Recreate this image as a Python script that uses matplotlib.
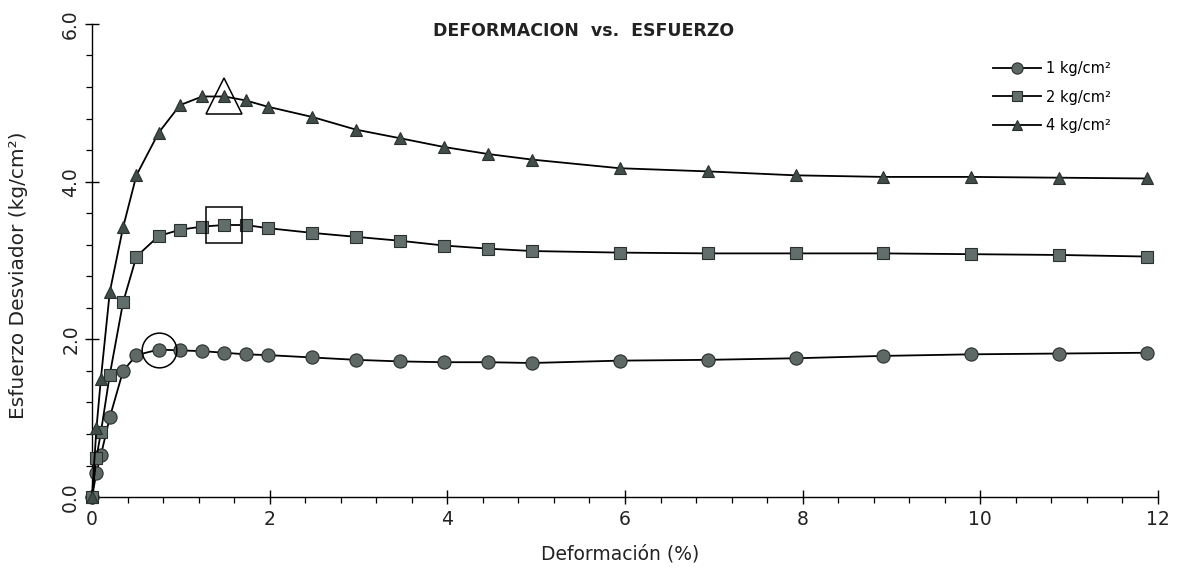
import matplotlib
matplotlib.use("Agg")
import matplotlib.pyplot as plt
from matplotlib.ticker import MultipleLocator, FormatStrFormatter

plt.rcParams['font.family'] = ['DejaVu Sans']

# Strain (%) values
strain = [0.0, 0.05, 0.10, 0.20, 0.35, 0.50, 0.75, 0.99, 1.24, 1.49, 1.73, 1.98,
          2.48, 2.97, 3.47, 3.96, 4.46, 4.95, 5.94, 6.93, 7.92, 8.91, 9.90, 10.89, 11.88]

# Deviator stress (kg/cm2) per confining pressure
stress_1 = [0.0, 0.31, 0.53, 1.01, 1.60, 1.80, 1.87, 1.86, 1.85, 1.83, 1.81, 1.80,
            1.77, 1.74, 1.72, 1.71, 1.71, 1.70, 1.73, 1.74, 1.76, 1.79, 1.81, 1.82, 1.83]
stress_2 = [0.0, 0.50, 0.82, 1.55, 2.47, 3.05, 3.31, 3.39, 3.43, 3.45, 3.45, 3.41,
            3.35, 3.30, 3.25, 3.19, 3.15, 3.12, 3.10, 3.09, 3.09, 3.09, 3.08, 3.07, 3.05]
stress_4 = [0.0, 0.87, 1.50, 2.60, 3.42, 4.08, 4.62, 4.97, 5.08, 5.08, 5.03, 4.95,
            4.82, 4.66, 4.55, 4.44, 4.35, 4.28, 4.17, 4.13, 4.08, 4.06, 4.06, 4.05, 4.04]

labels = ['1 kg/cm²', '2 kg/cm²', '4 kg/cm²']

# Peak (failure) points highlighted
peak_x = [0.75, 1.49, 1.49]
peak_y = [1.87, 3.45, 5.08]

fig = plt.figure(figsize=(11.81, 5.70), dpi=100)
ax = fig.add_axes([0.0779, 0.128, 0.9026, 0.830])

series = [(stress_1, 'o', '#5e6966', 9.5),
          (stress_2, 's', '#626e6b', 8.5),
          (stress_4, '^', '#404d49', 9.0)]
for (ys, mk, fc, ms), lab in zip(series, labels):
    ax.plot(strain, ys, color='black', lw=1.3, marker=mk, markersize=ms,
            markerfacecolor=fc, markeredgecolor='#2a302e', markeredgewidth=0.8,
            label=lab, clip_on=False, zorder=3)

big = [('o', 25), ('s', 26.5), ('^', 25.5)]
for (mk, ms), px, py in zip(big, peak_x, peak_y):
    ax.plot([px], [py], marker=mk, markersize=ms, markerfacecolor='none',
            markeredgecolor='black', markeredgewidth=1.1, linestyle='none', zorder=4)

ax.set_xlim(0, 12)
ax.set_ylim(0, 6)
ax.xaxis.set_major_locator(MultipleLocator(2))
ax.xaxis.set_minor_locator(MultipleLocator(0.4))
ax.yaxis.set_major_locator(MultipleLocator(2))
ax.yaxis.set_minor_locator(MultipleLocator(0.4))
ax.yaxis.set_major_formatter(FormatStrFormatter('%.1f'))

for s in ['top', 'right']:
    ax.spines[s].set_visible(False)
for s in ['left', 'bottom']:
    ax.spines[s].set_linewidth(1.0)

ax.tick_params(which='major', direction='inout', length=10, width=1.0,
               labelsize=13.5, labelcolor='#222222')
ax.tick_params(which='minor', direction='out', length=4, width=0.9)
ax.tick_params(axis='x', which='major', pad=4)
for t in ax.get_yticklabels():
    t.set_rotation(90)
    t.set_va('center')

ax.set_xlabel('Deformación (%)', fontsize=13.5, color='#222222')
ax.xaxis.set_label_coords(0.495, -0.100)
ax.set_ylabel('Esfuerzo Desviador (kg/cm²)', fontsize=14.5, color='#222222')
ax.yaxis.set_label_coords(-0.060, 0.469)

ax.text(0.4615, 0.985, 'DEFORMACION  vs.  ESFUERZO', transform=ax.transAxes,
        ha='center', va='center', fontsize=12.5, fontweight='bold', color='#222222')

leg = ax.legend(loc='upper left', bbox_to_anchor=(980 / 1181, 1 - 48 / 570),
                bbox_transform=fig.transFigure, frameon=False,
                fontsize=10.5, handlelength=3.3, labelspacing=0.92, handletextpad=0.3,
                markerscale=0.85, borderpad=0.4)

fig.savefig('out.png', dpi=100)
